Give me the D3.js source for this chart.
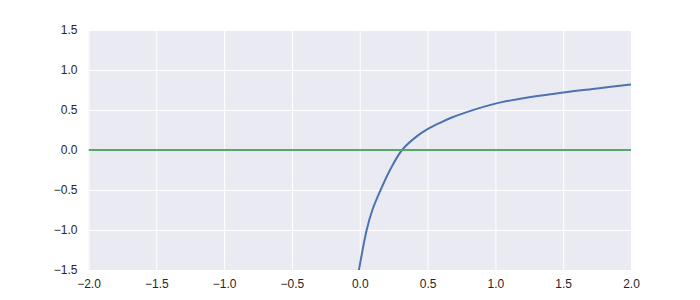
<!DOCTYPE html>
<html><head><meta charset="utf-8">
<script src="https://cdn.jsdelivr.net/npm/d3@7"></script>
<style>
html,body{margin:0;padding:0;background:#fff;}
svg{display:block;}
text{font-family:"Liberation Sans",Arial,sans-serif;}
</style></head>
<body>
<svg id="chart" width="700" height="300"></svg>
<script>
const curveX = [-0.012, 0.051, 0.093, 0.154, 0.223, 0.312, 0.42, 0.5, 0.592, 0.67, 0.8, 1.0, 1.25, 1.5, 1.75, 2.0];
const curveY = [-1.56, -1.0, -0.75, -0.5, -0.25, 0.0, 0.17, 0.26, 0.34, 0.40, 0.48, 0.58, 0.66, 0.72, 0.77, 0.82];
const zeroX = [-2.0, 2.0];
const zeroY = [0.0, 0.0];
const xTicks = [-2.0, -1.5, -1.0, -0.5, 0.0, 0.5, 1.0, 1.5, 2.0];
const yTicks = [-1.5, -1.0, -0.5, 0.0, 0.5, 1.0, 1.5];

(function () {
const svg = d3.select("#chart");
const mL = 88.5, mR = 631, mT = 30, mB = 270;
const x = d3.scaleLinear().domain([-2, 2]).range([mL, mR]);
const y = d3.scaleLinear().domain([-1.5, 1.5]).range([mB, mT]);

svg.append("rect").attr("x", mL).attr("y", mT)
  .attr("width", mR - mL).attr("height", mB - mT).attr("fill", "#EAEAF2");

const fmt = d => d3.format(".1f")(d).replace("-", "\u2212");

const gx = svg.append("g").attr("transform", `translate(0,${mB})`)
  .call(d3.axisBottom(x).tickValues(xTicks).tickFormat(fmt).tickSize(-(mB - mT)).tickPadding(9));
const gy = svg.append("g").attr("transform", `translate(${mL},0)`)
  .call(d3.axisLeft(y).tickValues(yTicks).tickFormat(fmt).tickSize(-(mR - mL)).tickPadding(11));
[gx, gy].forEach(g => {
  g.select(".domain").remove();
  g.selectAll(".tick line").attr("stroke", "#fff").attr("stroke-width", 1);
  g.selectAll(".tick text").attr("fill", "#262626").style("font-size", "12px")
    .style("font-family", "'Liberation Sans', Arial, sans-serif");
});

svg.append("clipPath").attr("id", "clip").append("rect")
  .attr("x", mL).attr("y", mT).attr("width", mR - mL).attr("height", mB - mT);

const line = d3.line().x(d => x(d[0])).y(d => y(d[1])).curve(d3.curveCatmullRom.alpha(0.5));
svg.append("path").datum(curveX.map((v, i) => [v, curveY[i]]))
  .attr("clip-path", "url(#clip)")
  .attr("d", line).attr("fill", "none").attr("stroke", "#4C72B0").attr("stroke-width", 2);
svg.append("path").datum(zeroX.map((v, i) => [v, zeroY[i]]))
  .attr("clip-path", "url(#clip)")
  .attr("d", line).attr("fill", "none").attr("stroke", "#55A868").attr("stroke-width", 2);
})();
</script>
</body></html>
